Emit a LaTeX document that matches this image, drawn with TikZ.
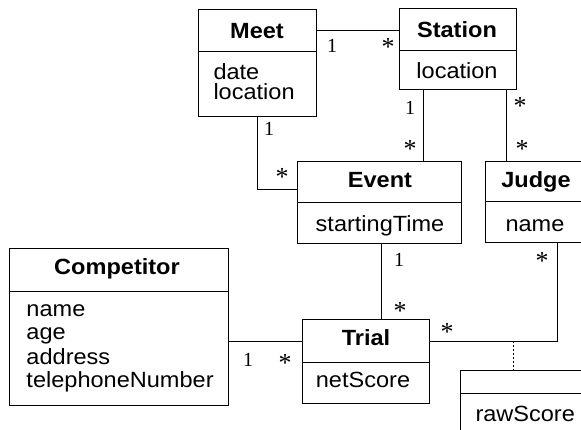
\documentclass[tikz,border=0pt]{standalone}
\usepackage{fontspec}
\setmainfont[FakeStretch=1.07]{Liberation Sans}
\newfontfamily\multfont{Liberation Serif}
\begin{document}
\begin{tikzpicture}[x=1pt,y=-1pt,line width=1pt,
  box/.style 2 args={draw,minimum width=#1,minimum height=#2,inner sep=0pt,outer sep=0pt,anchor=north west},
  cname/.style={font=\fontsize{22}{22}\selectfont\bfseries,anchor=base,inner sep=0pt},
  attr/.style={font=\fontsize{22}{22}\selectfont,anchor=base west,inner sep=0pt},
  attrc/.style={font=\fontsize{22}{22}\selectfont,anchor=base,inner sep=0pt},
  one/.style={font=\multfont\fontsize{20}{20}\selectfont,anchor=base,inner sep=0pt,yshift=-6.8pt},
  many/.style={font=\multfont\fontsize{26}{26}\selectfont,anchor=base,inner sep=0pt,yshift=-12.5pt},
  link/.style={draw,line width=1pt},
  assoc/.style={draw,line width=0.8pt,dash pattern=on 2pt off 2pt}]
\useasboundingbox (0,0) rectangle (581,430);
\begin{scope}
\clip (0,0) rectangle (581,430);

% class boxes: name compartment and attribute compartment
\node[box={118pt}{42pt}] (meetH) at (198,10) {};
\node[box={118pt}{65pt}] (meetB) at (198,52) {};
\node[box={117pt}{42pt}] (stationH) at (399,9) {};
\node[box={117pt}{39pt}] (stationB) at (399,51) {};
\node[box={164pt}{41pt}] (eventH) at (297,162) {};
\node[box={164pt}{41pt}] (eventB) at (297,203) {};
\node[box={100pt}{40pt}] (judgeH) at (485,162) {};
\node[box={100pt}{41pt}] (judgeB) at (485,202) {};
\node[box={219pt}{43pt}] (compH) at (9,249) {};
\node[box={219pt}{113pt}] (compB) at (9,292) {};
\node[box={127pt}{42pt}] (trialH) at (302,320) {};
\node[box={127pt}{41pt}] (trialB) at (302,362) {};
\node[box={132pt}{23pt}] (scoreH) at (460,370) {};
\node[box={132pt}{60pt}] (scoreB) at (460,393) {};

% class names
\node[cname] (meetN) at (257,39) {Meet};
\node[cname] (stationN) at (457,38) {Station};
\node[cname] (eventN) at (380,188) {Event};
\node[cname] (judgeN) at (536,188) {Judge};
\node[cname] (compN) at (117,275) {Competitor};
\node[cname] (trialN) at (366,345) {Trial};

% attributes
\node[attr] (meetA1) at (213,80) {date};
\node[attr] (meetA2) at (213,100) {location};
\node[attrc] (stationA) at (457,79) {location};
\node[attrc] (eventA) at (380,232) {startingTime};
\node[attrc] (judgeA) at (535,232) {name};
\node[attr] (compA1) at (26,317) {name};
\node[attr] (compA2) at (26,340) {age};
\node[attr] (compA3) at (26,364) {address};
\node[attr] (compA4) at (26,387) {telephoneNumber};
\node[attrc] (trialA) at (363,387) {netScore};
\node[attr] (scoreA) at (475,421) {rawScore};

% associations
\draw[link] (meetH.east) -- (meetH.east -| stationH.west);
\draw[link] (meetB.south) |- ([yshift=13pt]eventH.south west);
\coordinate (se) at ([xshift=24pt]stationB.south west);
\draw[link] (se) -- (se |- eventH.north);
\coordinate (sj) at ([xshift=-10pt]stationB.south east);
\draw[link] (sj) -- (sj |- judgeH.north);
\coordinate (et) at ([xshift=2pt]eventB.south);
\draw[link] (et) -- (et |- trialH.north);
\coordinate (jt) at ([xshift=22pt]judgeB.south);
\draw[link] (trialH.east) -| (jt);
\draw[link] (trialH.west) -- (trialH.west -| compB.east);
\coordinate (ac) at ([xshift=-13pt]scoreH.north |- trialH.east);
\draw[assoc] (ac) -- (ac |- scoreH.north);

% multiplicities
\node[one] (m1) at (332,46) {1};
\node[many] (m2) at (388,43) {*};
\node[one] (m3) at (410,108) {1};
\node[many] (m4) at (410,145) {*};
\node[one] (m5) at (269,129) {1};
\node[many] (m6) at (282,173) {*};
\node[many] (m7) at (520,102) {*};
\node[many] (m8) at (522,145) {*};
\node[one] (m9) at (399,260) {1};
\node[many] (m10) at (400,307) {*};
\node[many] (m11) at (542,257) {*};
\node[many] (m12) at (447,328) {*};
\node[one] (m13) at (248,360) {1};
\node[many] (m14) at (285,359) {*};
\end{scope}
\end{tikzpicture}
\end{document}
